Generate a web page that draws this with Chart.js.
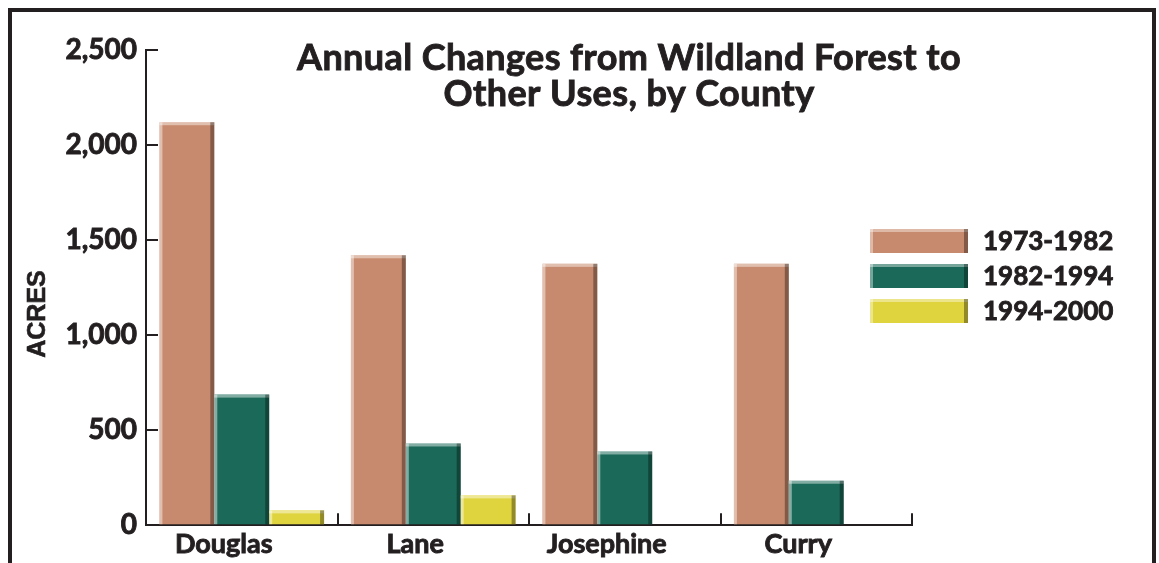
<!DOCTYPE html>
<html>
<head>
<meta charset="UTF-8">
<title>Annual Changes from Wildland Forest to Other Uses, by County</title>
<script src="https://cdn.jsdelivr.net/npm/chart.js"></script>
<style>
  body { margin: 0; background: #fff; }
  .wrap { position: relative; width: 1159px; height: 563px; overflow: hidden; }
  .frame {
    position: absolute; left: 8px; top: 8px; width: 1140px; height: 600px;
    border: 4px solid #231f20; border-bottom: none; pointer-events: none;
  }
  canvas { position: absolute; left: 0; top: 0; }
</style>
</head>
<body>
<div class="wrap">
  <canvas id="chart" width="1159" height="563"></canvas>
  <div class="frame"></div>
</div>
<script>
// counties and acres per year for each period
const counties = ['Douglas', 'Lane', 'Josephine', 'Curry'];
const p1973_1982 = [2120, 1420, 1375, 1375];
const p1982_1994 = [687, 430, 388, 234];
const p1994_2000 = [78, 157, 0, 0];
const periodLabels = ['1973-1982', '1982-1994', '1994-2000'];
const yTicks = [0, 500, 1000, 1500, 2000, 2500];

const colors = ['#c88a6e', '#1b6a59', '#e0d43e'];
const ink = '#231f20';
const gill = 'Lato, "DejaVu Sans", sans-serif';

// filled + thin stroke so the text looks as heavy as the original
function heavyText(ctx, txt, x, y) {
  ctx.fillText(txt, x, y);
  ctx.strokeText(txt, x, y);
}

// title, legend, axis title and bevel edges on the bars
const extras = {
  id: 'extras',
  afterDatasetsDraw(chart) {
    const ctx = chart.ctx;
    chart.data.datasets.forEach((ds, i) => {
      const meta = chart.getDatasetMeta(i);
      meta.data.forEach(bar => {
        const h = bar.base - bar.y;
        if (h < 1) return;
        const l = bar.x - bar.width / 2;
        const r = bar.x + bar.width / 2;
        ctx.save();
        ctx.fillStyle = 'rgba(255,255,255,0.45)';
        ctx.fillRect(l, bar.y, 3, h);
        ctx.fillRect(l, bar.y, bar.width, 3);
        ctx.fillStyle = 'rgba(0,0,0,0.35)';
        ctx.fillRect(r - 4, bar.y, 4, h);
        ctx.restore();
      });
    });
  },
  afterDraw(chart) {
    const ctx = chart.ctx;
    ctx.save();
    ctx.fillStyle = ink;
    ctx.strokeStyle = ink;
    ctx.lineWidth = 0.9;
    ctx.textAlign = 'center';
    ctx.textBaseline = 'alphabetic';
    ctx.font = 'bold 36px ' + gill;
    ctx.letterSpacing = '0.4px';
    heavyText(ctx, 'Annual Changes from Wildland Forest to', 629, 70);
    heavyText(ctx, 'Other Uses, by County', 629, 106);
    ctx.letterSpacing = '0px';

    // legend
    ctx.textAlign = 'left';
    ctx.textBaseline = 'middle';
    ctx.font = 'bold 26px ' + gill;
    chart.data.datasets.forEach((ds, i) => {
      const y = 229 + i * 35;
      ctx.fillStyle = ds.backgroundColor;
      ctx.fillRect(870, y, 98, 24);
      ctx.fillStyle = 'rgba(255,255,255,0.4)';
      ctx.fillRect(870, y, 98, 3);
      ctx.fillRect(870, y, 3, 24);
      ctx.fillStyle = 'rgba(0,0,0,0.35)';
      ctx.fillRect(964, y, 4, 24);
      ctx.fillStyle = ink;
      heavyText(ctx, ds.label, 983, y + 13);
    });

    // y axis title
    ctx.translate(38, 314);
    ctx.rotate(-Math.PI / 2);
    ctx.textAlign = 'center';
    ctx.font = 'bold 25px "Liberation Sans", Arial, sans-serif';
    ctx.lineWidth = 0.6;
    heavyText(ctx, 'ACRES', 0, 0);
    ctx.restore();
  }
};

new Chart(document.getElementById('chart'), {
  type: 'bar',
  data: {
    labels: counties,
    datasets: [
      { label: periodLabels[0], data: p1973_1982, backgroundColor: colors[0] },
      { label: periodLabels[1], data: p1982_1994, backgroundColor: colors[1] },
      { label: periodLabels[2], data: p1994_2000, backgroundColor: colors[2] }
    ]
  },
  options: {
    responsive: false,
    animation: false,
    layout: { padding: { top: 50, right: 247, bottom: 0, left: 0 } },
    datasets: { bar: { categoryPercentage: 0.86, barPercentage: 1.0 } },
    plugins: {
      legend: { display: false },
      title: { display: false },
      tooltip: { enabled: false }
    },
    scales: {
      x: {
        afterFit: s => { s.height = 36; },
        border: { color: ink, width: 2 },
        grid: { drawOnChartArea: false, color: ink, lineWidth: 2, tickLength: -12 },
        ticks: {
          color: ink,
          textStrokeColor: ink,
          textStrokeWidth: 0.9,
          font: { family: gill, weight: 'bold', size: 27 },
          padding: 15,
          labelOffset: -18
        }
      },
      y: {
        min: 0,
        max: 2500,
        afterFit: s => { s.width = 146; },
        afterBuildTicks: s => { s.ticks = yTicks.map(v => ({ value: v })); },
        border: { color: ink, width: 2 },
        grid: { drawOnChartArea: false, color: ink, lineWidth: 2, tickLength: -12 },
        ticks: {
          color: ink,
          textStrokeColor: ink,
          textStrokeWidth: 0.9,
          font: { family: gill, weight: 'bold', size: 28 },
          padding: 21,
          callback: v => v.toLocaleString('en-US')
        }
      }
    }
  },
  plugins: [extras]
});
</script>
</body>
</html>
